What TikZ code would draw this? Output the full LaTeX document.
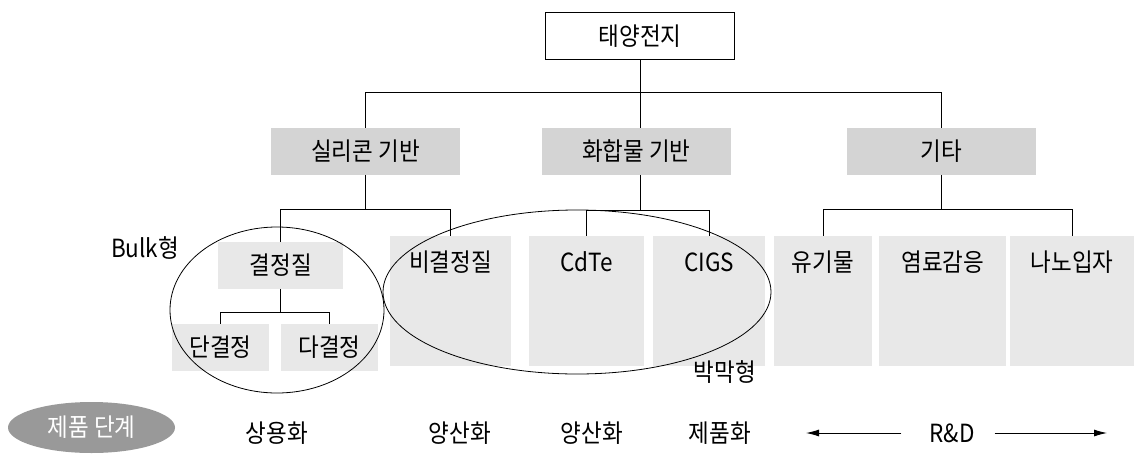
\documentclass[tikz,border=0pt]{standalone}
\usepackage{fontspec}
\setmainfont[FakeStretch=0.9]{Noto Sans CJK KR}
\usetikzlibrary{arrows.meta,shapes.geometric}
\definecolor{gA}{HTML}{D4D4D4}
\definecolor{gB}{HTML}{E8E8E8}
\definecolor{gC}{HTML}{999999}
\begin{document}
\begin{tikzpicture}[x=1pt,y=-1pt,
  txt/.style={font=\fontsize{25}{28}\selectfont, inner sep=0pt},
  topbox/.style={draw, line width=1pt, fill=white, minimum width=189pt, minimum height=47pt, txt},
  lvtwo/.style={fill=gA, minimum height=46.7pt, txt},
  lvthree/.style={fill=gB, inner sep=0pt},
  conn/.style={line width=0.9pt},
  ring/.style={line width=0.8pt},
  arr/.style={line width=0.9pt, -{Latex[length=13pt,width=7pt]}}
]
\useasboundingbox (0,0) rectangle (1134,455);
% level 1
\node[topbox] (top) at (640.2,35.7) {태양전지};
% level 2
\node[lvtwo, minimum width=189pt] (si) at (365.5,151.3) {실리콘 기반};
\node[lvtwo, minimum width=188.7pt] (hw) at (636.3,151.3) {화합물 기반};
\node[lvtwo, minimum width=189pt] (et) at (941.5,151.3) {기타};
% level 3 tall boxes
\node[lvthree, minimum width=120.4pt, minimum height=129.7pt] (bj) at (450.5,300.9) {};
\node[lvthree, minimum width=114.7pt, minimum height=129.7pt] (cd) at (586.3,300.9) {};
\node[lvthree, minimum width=112.3pt, minimum height=129.7pt] (ci) at (709.2,300.9) {};
\node[lvthree, minimum width=97.4pt, minimum height=129.7pt] (yg) at (823,300.9) {};
\node[lvthree, minimum width=126.7pt, minimum height=129.7pt] (ym) at (942.7,300.9) {};
\node[lvthree, minimum width=123.7pt, minimum height=129.7pt] (nn) at (1072.2,300.9) {};
\node[txt] (bjT) at (450.5,262) {비결정질};
\node[txt] (cdT) at (586.3,262) {CdTe};
\node[txt] (ciT) at (709.2,262) {CIGS};
\node[txt] (ygT) at (823,262) {유기물};
\node[txt] (ymT) at (942.7,262) {염료감응};
\node[txt] (nnT) at (1072,262) {나노입자};
% crystalline
\node[lvthree, txt, minimum width=125pt, minimum height=46.4pt] (gj) at (280.8,265.5) {결정질};
\node[lvthree, txt, minimum width=97.6pt, minimum height=47pt] (dg) at (220.5,347.2) {단결정};
\node[lvthree, txt, minimum width=97pt, minimum height=47pt] (dk) at (329.5,347.2) {다결정};
% buses
\coordinate (busA) at (0,92.3);
\coordinate (busB) at (0,209);
\coordinate (busC) at (0,210);
\coordinate (busD) at (0,312.3);
% tree connectors
\draw[conn] (top.south) -- (top.south |- hw.north);
\draw[conn] (si.north) |- (et.north |- busA) -- (et.north);
\draw[conn] (si.south) -- (si.south |- busB);
\draw[conn] (gj.north) |- (bj.north |- busB) -- (bj.north);
\draw[conn] (top.south |- hw.south) -- (top.south |- busC);
\draw[conn] (cd.north) |- (ci.north |- busC) -- (ci.north);
\draw[conn] (et.south) -- (et.south |- busB);
\draw[conn] (yg.north) |- (nn.north |- busB) -- (nn.north);
\draw[conn] (gj.south) -- (gj.south |- busD);
\draw[conn] (dg.north) |- (dk.north |- busD) -- (dk.north);
% groupings
\draw[ring] (277,310) ellipse [x radius=107, y radius=83];
\draw[ring] (577,292) ellipse [x radius=194, y radius=82];
\node[txt] (bulk) at (145,248) {Bulk형};
\node[txt] (thin) at (725,372) {박막형};
% stage row
\node[ellipse, fill=gC, minimum width=167pt, minimum height=51pt, inner sep=0pt, text=white, font=\fontsize{25}{28}\selectfont] (stage) at (91.5,427.5) {제품 단계};
\node[txt] (s1) at (277,433) {상용화};
\node[txt] (s2) at (460,433) {양산화};
\node[txt] (s3) at (592,433) {양산화};
\node[txt] (s4) at (720,433) {제품화};
\node[txt] (rd) at (952,433) {R\&D};
\coordinate (la) at (806,433);
\coordinate (ra) at (1107,433);
\draw[arr] ([xshift=-28pt]rd.west) -- (la);
\draw[arr] ([xshift=20pt]rd.east) -- (ra);
\end{tikzpicture}
\end{document}
